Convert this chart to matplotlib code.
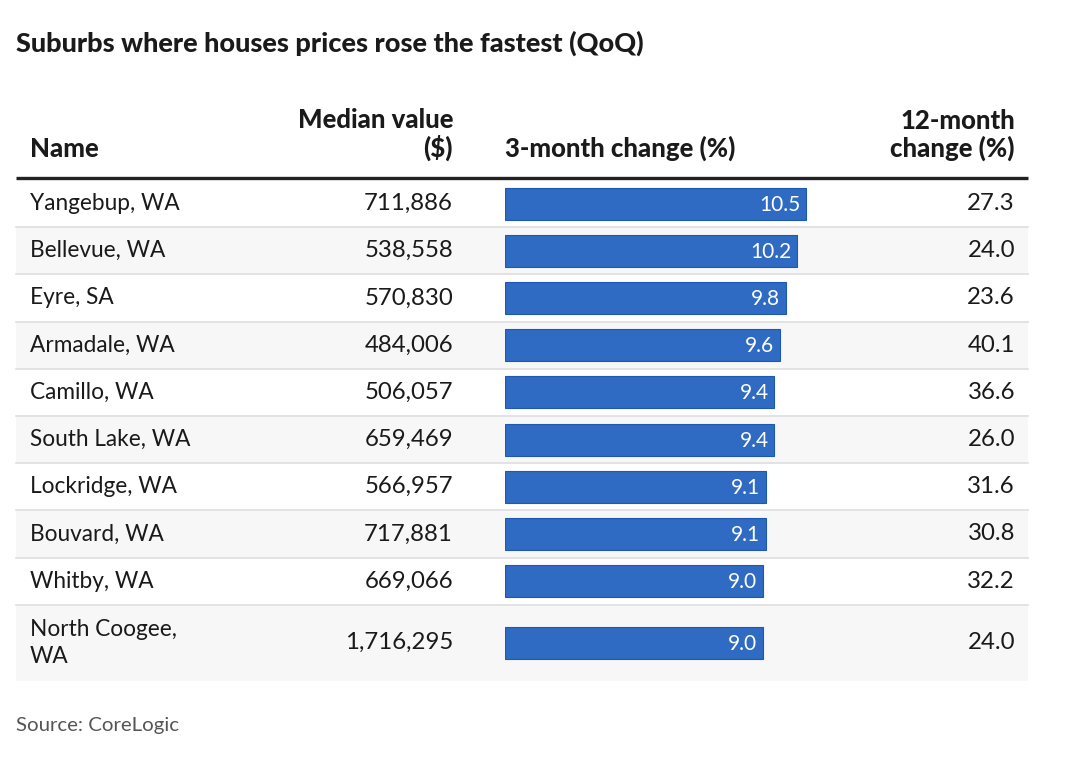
import matplotlib
matplotlib.use("Agg")
import matplotlib.pyplot as plt
from matplotlib.patches import Rectangle

names = ["Yangebup, WA", "Bellevue, WA", "Eyre, SA", "Armadale, WA", "Camillo, WA",
         "South Lake, WA", "Lockridge, WA", "Bouvard, WA", "Whitby, WA", "North Coogee,\nWA"]
median_values = [711886, 538558, 570830, 484006, 506057, 659469, 566957, 717881, 669066, 1716295]
change_3m = [10.5, 10.2, 9.8, 9.6, 9.4, 9.4, 9.1, 9.1, 9.0, 9.0]
change_12m = [27.3, 24.0, 23.6, 40.1, 36.6, 26.0, 31.6, 30.8, 32.2, 24.0]

title = "Suburbs where houses prices rose the fastest (QoQ)"
headers = ["Name", "Median value\n($)", "3-month change (%)", "12-month\nchange (%)"]
source = "Source: CoreLogic"

W, H = 1080, 764
FONT = "Lato"
TXT = "#1a1a1a"
BAR = "#2f6bc3"

fig = plt.figure(figsize=(W / 100, H / 100), dpi=100)
fig.patch.set_facecolor("white")
ax = fig.add_axes([0, 0, 1, 1])
ax.set_xlim(0, W)
ax.set_ylim(H, 0)
ax.axis("off")

# layout (pixels)
left, right = 16, 1028
x_name, x_med, x_bar, x_12 = 30, 453, 505, 1015
top_body = 180
row_h = [47.2] * 9 + [76]
tops = [top_body]
for h in row_h[:-1]:
    tops.append(tops[-1] + h)
centers = [t + h / 2 for t, h in zip(tops, row_h)]

# title
ax.text(left, 43, title, fontsize=19.5, fontweight=900, family=FONT, color=TXT,
        va="center", ha="left")

# headers
hy = 157
HS = 18.5
for x, txt, ha in [(x_name, headers[0], "left"), (x_med, headers[1], "right"),
                   (x_bar, headers[2], "left"), (x_12, headers[3], "right")]:
    ax.text(x, hy, txt, fontsize=HS, fontweight=900, family=FONT, color=TXT,
            ha=ha, va="baseline", multialignment=ha, linespacing=1.15)

# header rule
ax.plot([left, right], [178, 178], color="#222222", lw=2.4, solid_capstyle="butt")

# rows background and separators
for i, (t, h) in enumerate(zip(tops, row_h)):
    if i % 2 == 1:
        ax.add_patch(Rectangle((left, t), right - left, h, facecolor="#f7f7f7",
                               edgecolor="none", zorder=0))
    if i > 0:
        ax.plot([left, right], [t, t], color="#dedede", lw=1.2, zorder=1)

for i, c in enumerate(centers):
    ax.text(x_name, c, names[i], fontsize=16.3, family=FONT, color=TXT, ha="left",
            va="center", linespacing=1.38)
    ax.text(x_med, c, f"{median_values[i]:,}", fontsize=17.3, family=FONT, color=TXT,
            ha="right", va="center")
    ax.text(x_12, c, f"{change_12m[i]:.1f}", fontsize=17.3, family=FONT, color=TXT,
            ha="right", va="center")

# bar axes
scale = 301 / 10.5  # px per percentage point
bx_w = 12 * scale
bax = fig.add_axes([x_bar / W, 1 - 680 / H, bx_w / W, (680 - top_body) / H])
bax.set_xlim(0, 12)
bax.set_ylim(680, top_body)
bax.axis("off")
bax.patch.set_alpha(0)
bax.barh(centers, change_3m, height=32, left=0, color=BAR, edgecolor="#1f58b0",
         linewidth=0.8)
for c, v in zip(centers, change_3m):
    bax.text(v - 0.2, c + 1, f"{v:.1f}", fontsize=15, family=FONT, color="white",
             ha="right", va="center")

ax.text(left, 726, source, fontsize=14.7, family=FONT, color="#555555", ha="left",
        va="center")

fig.savefig("out.png", dpi=100, facecolor="white")
